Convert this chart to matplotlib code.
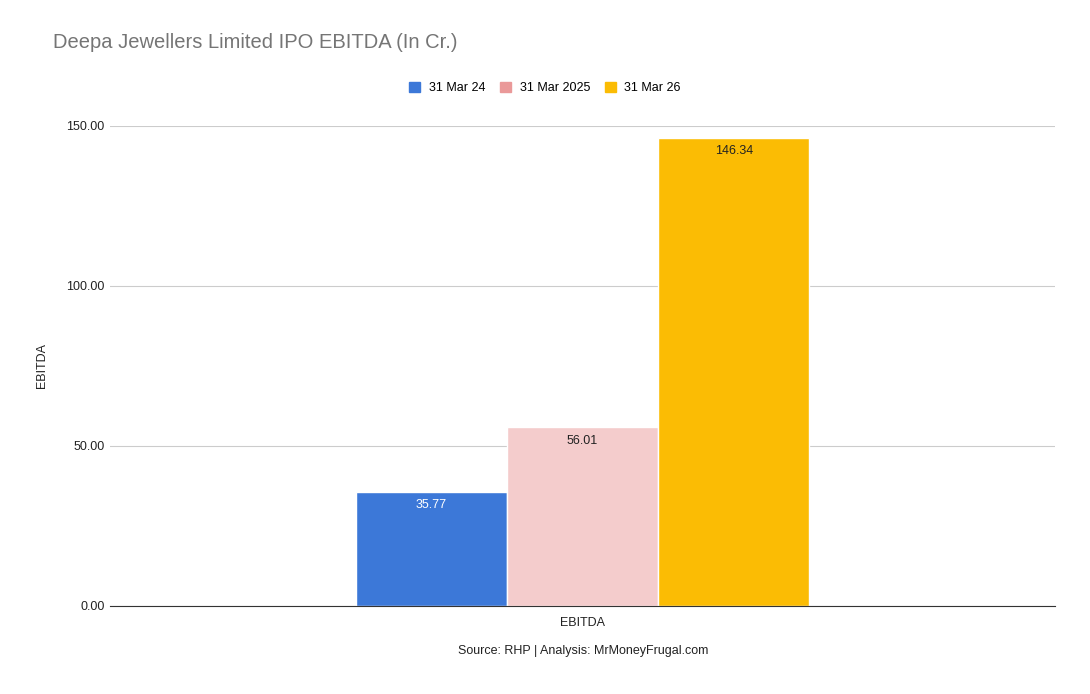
import matplotlib.pyplot as plt
from matplotlib.patches import Patch

plt.rcParams["font.family"] = ["Liberation Sans", "DejaVu Sans"]

category = ["EBITDA"]
series_names = ["31 Mar 24", "31 Mar 2025", "31 Mar 26"]
values = [35.77, 56.01, 146.34]
bar_colors = ["#3c78d8", "#f4cccc", "#fbbc04"]
legend_colors = ["#3c78d8", "#ea9999", "#fbbc04"]
label_colors = ["white", "#222222", "#222222"]
y_ticks = [0, 50, 100, 150]


def create_plot():
    fig = plt.figure(figsize=(10.9, 6.94), dpi=100)
    ax = fig.add_axes([110 / 1090, 1 - 606 / 694, 945 / 1090, 480 / 694])

    width = 0.16
    offsets = [-width, 0, width]
    for i, (name, val) in enumerate(zip(series_names, values)):
        x = offsets[i]
        ax.bar(x, val, width=width, color=bar_colors[i], edgecolor="white",
               linewidth=1, zorder=3)
        ax.text(x, val - 4.3, f"{val:.2f}", ha="center", va="center",
                fontsize=9, color=label_colors[i], zorder=4)

    ax.set_xlim(-0.5, 0.5)
    ax.set_ylim(0, 150)
    ax.set_xticks([0])
    ax.set_xticklabels(category, fontsize=9, color="#222222")
    ax.set_yticks(y_ticks)
    ax.set_yticklabels([f"{t:.2f}" for t in y_ticks], fontsize=9, color="#222222")
    ax.tick_params(axis="y", length=0, pad=4)
    ax.tick_params(axis="x", length=0, pad=8)
    ax.grid(axis="y", color="#cccccc", linewidth=0.8, zorder=0)
    for side in ["top", "right", "left"]:
        ax.spines[side].set_visible(False)
    ax.spines["bottom"].set_color("#333333")
    ax.spines["bottom"].set_zorder(5)
    ax.set_ylabel("EBITDA", fontsize=9, color="#222222")
    ax.yaxis.set_label_coords(-62 / 945, 0.5)

    fig.text(53 / 1090, 1 - 43 / 694, "Deepa Jewellers Limited IPO EBITDA (In Cr.)",
             fontsize=14.5, color="#757575", va="center", ha="left")

    handles = [Patch(facecolor=c, edgecolor=c) for c in legend_colors]
    fig.legend(handles, series_names, loc="center", ncol=3,
               bbox_to_anchor=(545 / 1090, 1 - 88 / 694), frameon=False,
               fontsize=9, handlelength=0.85, handleheight=0.85,
               handletextpad=0.7, columnspacing=1.2)

    fig.text(583 / 1090, 1 - 651 / 694, "Source: RHP | Analysis: MrMoneyFrugal.com",
             fontsize=9, color="#222222", ha="center", va="center")

    fig.savefig("out.png", dpi=100)


def main():
    create_plot()


if __name__ == "__main__":
    main()
